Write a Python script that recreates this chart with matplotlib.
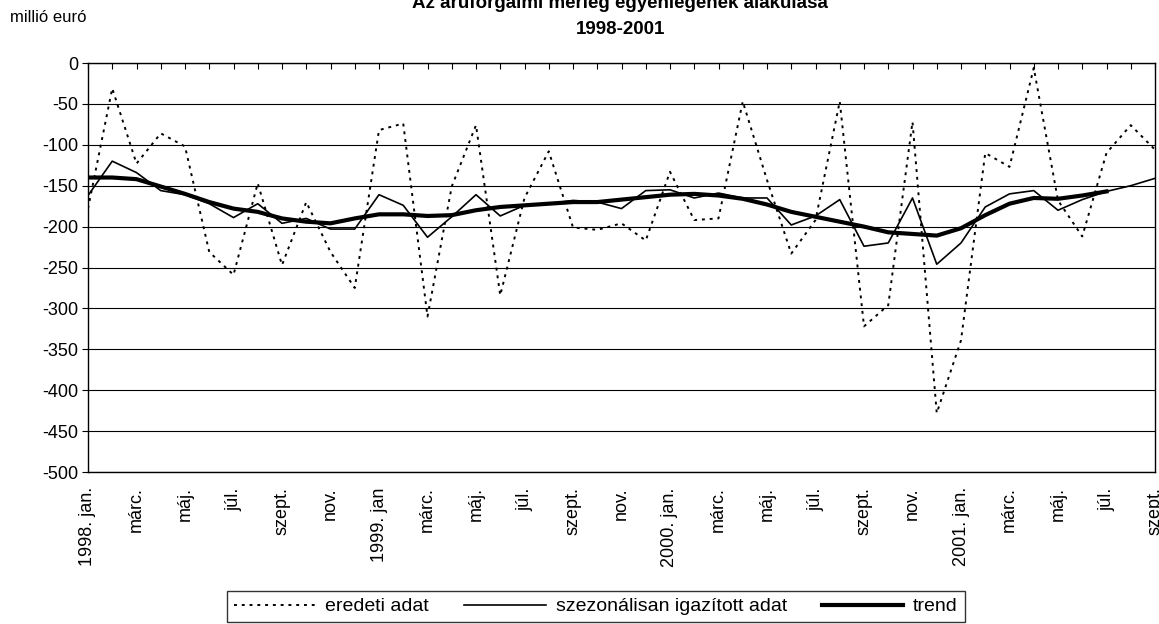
import matplotlib
matplotlib.use("Agg")
import matplotlib.pyplot as plt
import numpy as np

plt.rcParams['font.family'] = ['Liberation Sans', 'DejaVu Sans']

months = ["1998. jan.", "", "márc.", "", "máj.", "", "júl.", "", "szept.", "", "nov.", "",
          "1999. jan", "", "márc.", "", "máj.", "", "júl.", "", "szept.", "", "nov.", "",
          "2000. jan.", "", "márc.", "", "máj.", "", "júl.", "", "szept.", "", "nov.", "",
          "2001. jan.", "", "márc.", "", "máj.", "", "júl.", "", "szept."]

eredeti = [-178, -31, -123, -86, -102, -231, -259, -147, -247, -170, -231, -275,
           -82, -74, -310, -151, -76, -284, -165, -108, -201, -204, -196, -217,
           -133, -192, -190, -47, -143, -233, -192, -47, -322, -296, -72, -428,
           -339, -110, -127, -6, -168, -212, -110, -76, -106]

szezonalis = [-162, -120, -134, -156, -161, -172, -189, -172, -196, -190, -203, -203,
              -161, -174, -213, -188, -161, -187, -174, -172, -168, -170, -178, -156,
              -155, -165, -159, -165, -165, -198, -187, -167, -224, -220, -165, -246,
              -220, -176, -160, -156, -180, -167, -157, -150, -141]

trend = [-140, -140, -142, -151, -160, -170, -178, -182, -190, -194, -196, -190,
         -185, -185, -187, -186, -180, -176, -174, -172, -170, -170, -167, -164,
         -161, -160, -162, -166, -173, -182, -188, -194, -200, -207, -209, -211,
         -202, -186, -172, -165, -166, -162, -157]

yticks = [0, -50, -100, -150, -200, -250, -300, -350, -400, -450, -500]

fig = plt.figure(figsize=(11.59, 6.24), dpi=100)
ax = fig.add_axes([88/1159, 1-472/624, (1155-88)/1159, (472-63)/624])

x = np.arange(len(months))
l1, = ax.plot(x, eredeti, color='black', lw=1.4, linestyle=(0, (1.5, 2.5)), label='eredeti adat')
l2, = ax.plot(x, szezonalis, color='black', lw=1.2, label='szezonálisan igazított adat')
l3, = ax.plot(np.arange(len(trend)), trend, color='black', lw=3.0, label='trend')

ax.set_xlim(0, len(months)-1)
ax.set_ylim(-500, 0)
ax.set_yticks(yticks)
ax.set_yticklabels([str(v) for v in yticks], fontsize=13)
for v in yticks:
    ax.axhline(v, color='black', lw=0.8, zorder=0)

ax.set_xticks(x)
ax.set_xticklabels(months, rotation=90, fontsize=13, va='top', ha='center')
ax.tick_params(axis='x', bottom=False, top=True, labelbottom=True, labeltop=False,
               direction='in', length=4, pad=11)
ax.tick_params(axis='y', direction='out', length=4, pad=3)
for s in ax.spines.values():
    s.set_color('black')
    s.set_linewidth(1.0)

fig.text(10/1159, 1-18/624, "millió euró", fontsize=12, va='center', ha='left')
fig.text(620/1159, 1-3/624, "Az áruforgalmi mérleg egyenlegének alakulása", fontsize=13.5,
         fontweight='bold', ha='center', va='center')
fig.text(621/1159, 1-30/624, "1998-2001", fontsize=13.5, fontweight='bold', ha='center', va='center')

leg = fig.legend(handles=[l1, l2, l3], loc='upper center', bbox_to_anchor=(596/1159, 1-591/624),
                 ncol=3, fontsize=14, frameon=True, fancybox=False, handlelength=4.2,
                 columnspacing=1.8, handletextpad=0.5, borderpad=0.35, borderaxespad=0)
leg.get_frame().set_edgecolor('black')
leg.get_frame().set_linewidth(1.0)

fig.savefig("out.png", dpi=100)
